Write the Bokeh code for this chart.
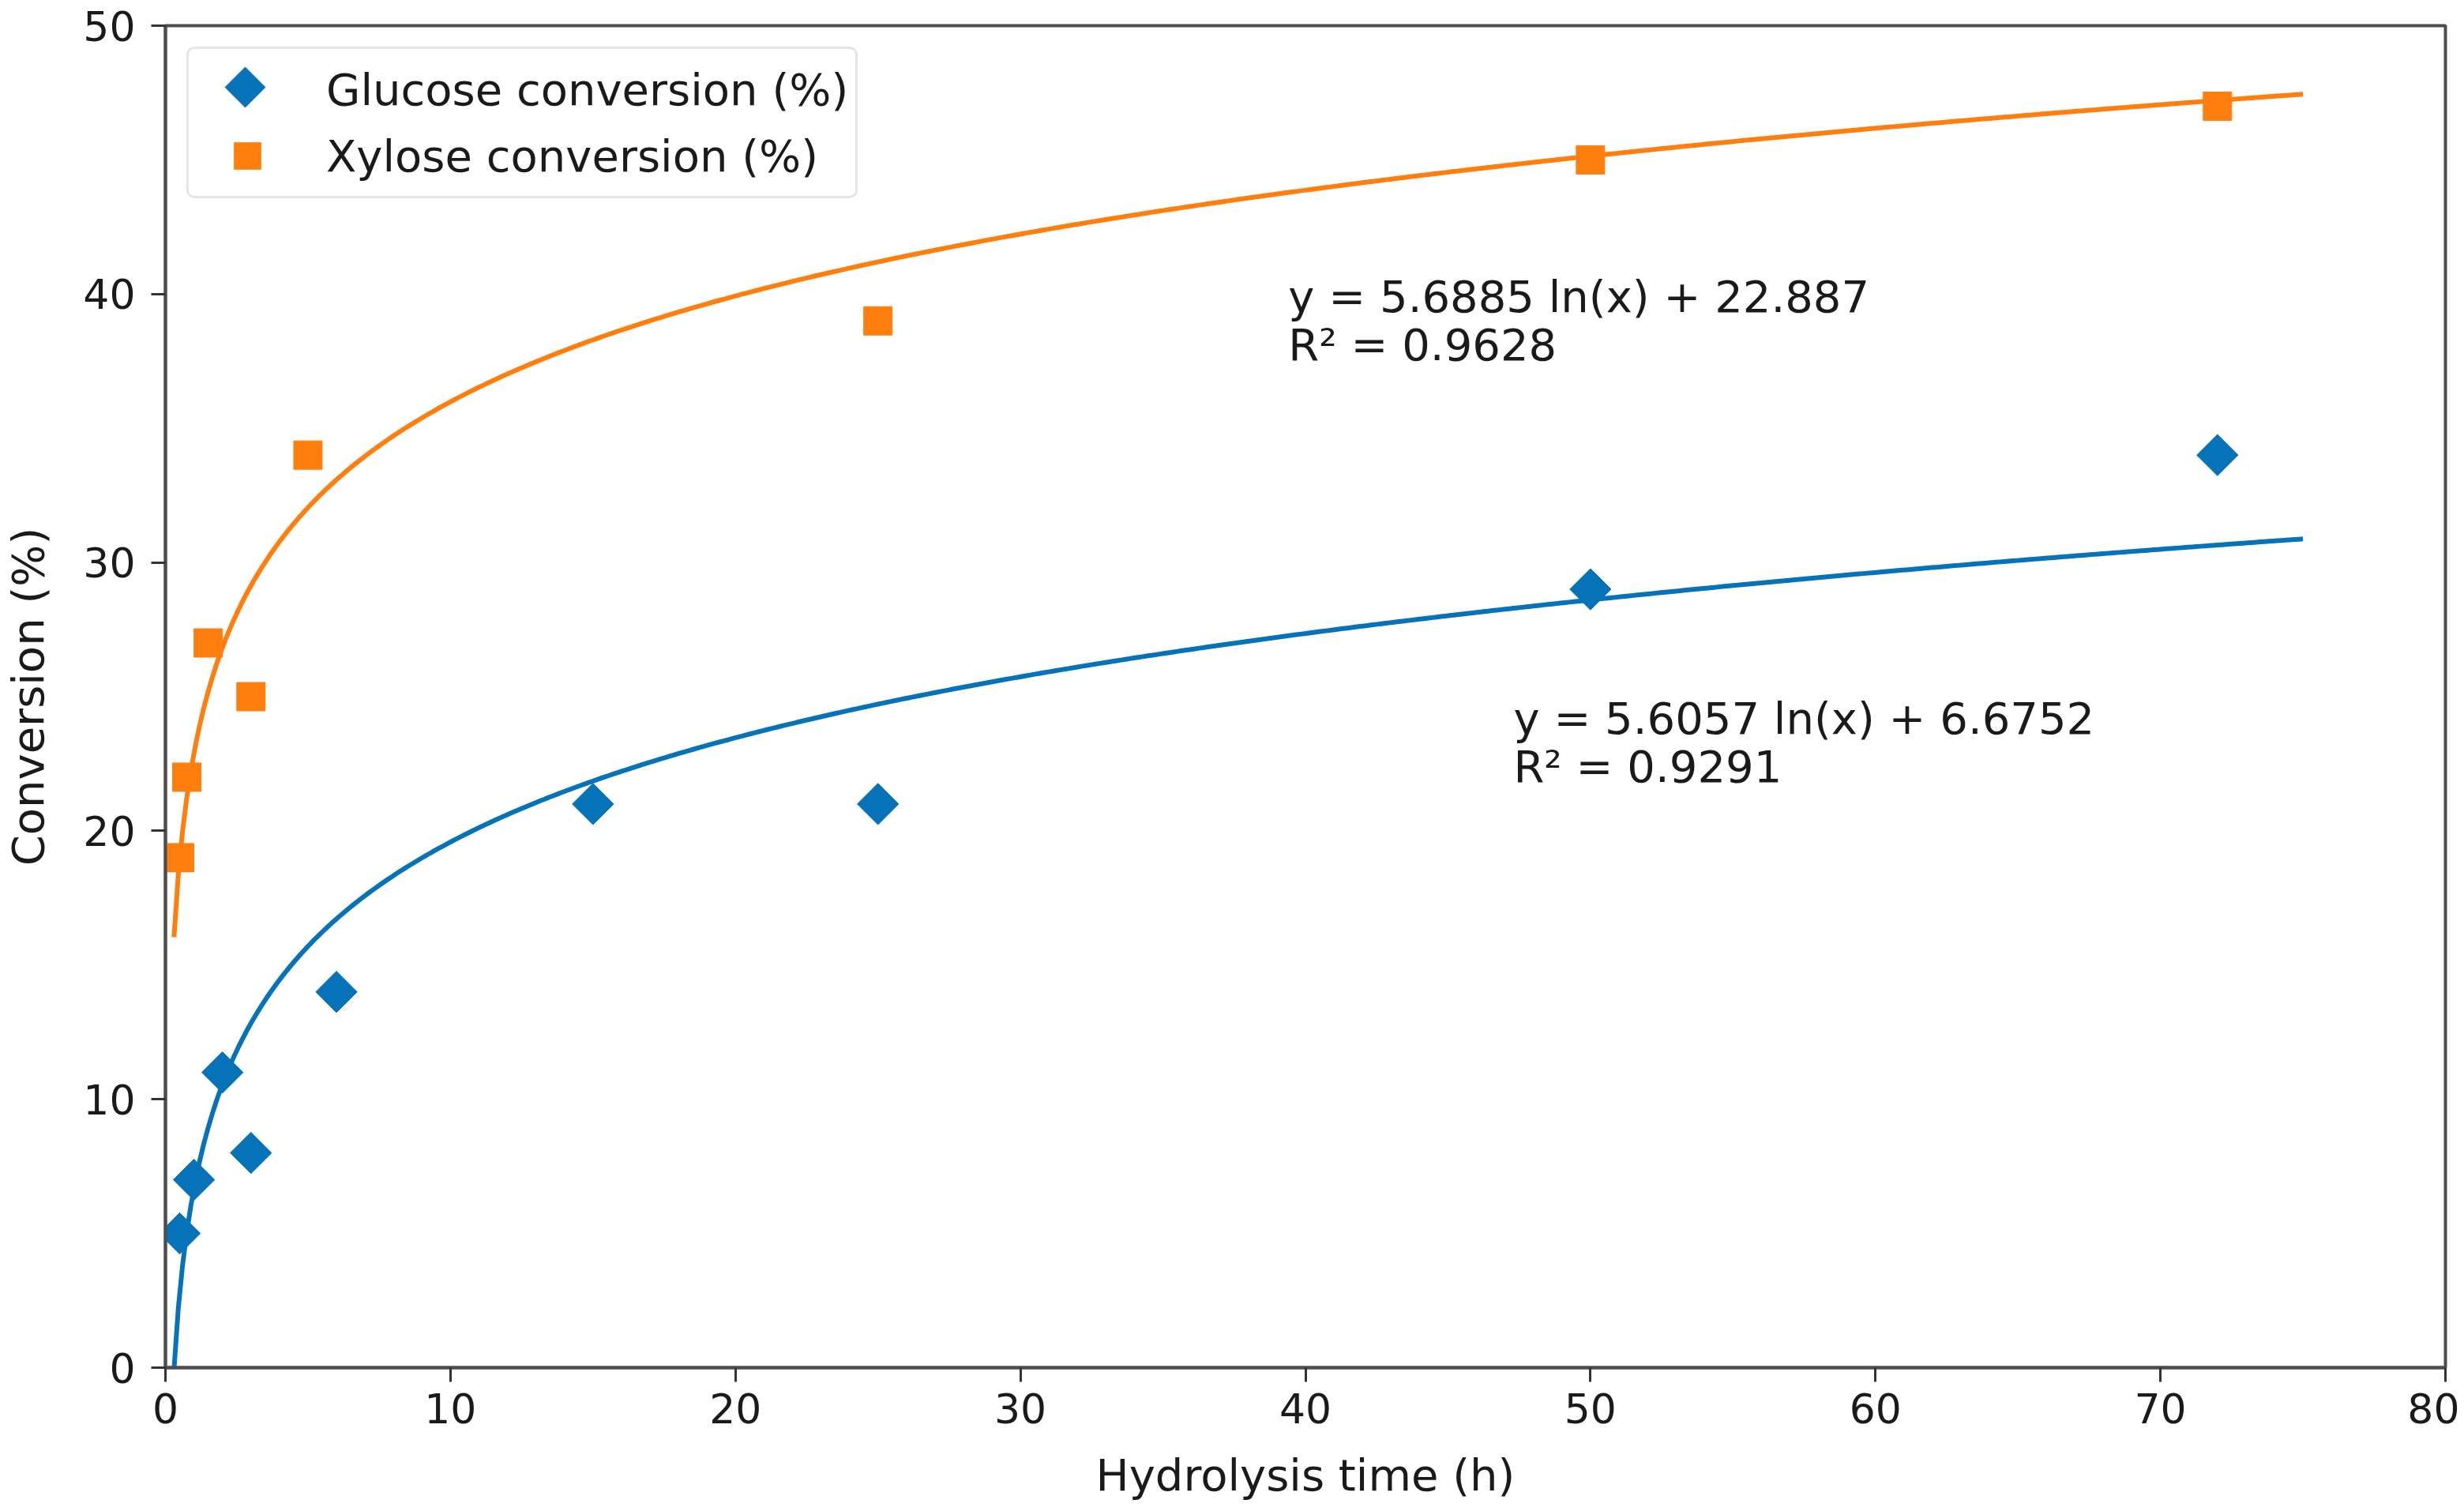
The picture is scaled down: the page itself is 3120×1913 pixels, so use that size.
import numpy as np
from math import pi
from bokeh.plotting import figure
from bokeh.models import ColumnDataSource, Legend, LegendItem, FixedTicker, Range1d
from bokeh.embed import file_html
from bokeh.resources import INLINE
from bokeh.core.properties import value

glucose_time = [0.5, 1, 2, 3, 6, 15, 25, 50, 72]
glucose_conv = [5, 7, 11, 8, 14, 21, 21, 29, 34]
xylose_time = [0.5, 0.75, 1.5, 3, 5, 25, 50, 72]
xylose_conv = [19, 22, 27, 25, 34, 39, 45, 47]

# logarithmic trend lines as printed on the chart: y = a ln(x) + b
glucose_fit = (5.6057, 6.6752)
xylose_fit = (5.6885, 22.887)
fit_start, fit_end = 0.3, 75

# equation labels
label_x = [39.4, 39.4, 47.3, 47.3]
label_y = [39.9, 38.1, 24.2, 22.4]
label_text = ["y = 5.6885 ln(x) + 22.887", "R² = 0.9628",
              "y = 5.6057 ln(x) + 6.6752", "R² = 0.9291"]

x_ticks = [0, 10, 20, 30, 40, 50, 60, 70, 80]
y_ticks = [0, 10, 20, 30, 40, 50]

BLUE = "#0673b8"
ORANGE = "#ff7f0e"
FONT = "DejaVu Sans"
FS = "56px"
TICK_FS = "52px"
FRAME_W, FRAME_H = 2887, 1699

# legend geometry
LEG_MARGIN, LEG_PAD = 27, 9
GLYPH_W, GLYPH_H = 130, 84

p = figure(frame_width=FRAME_W, frame_height=FRAME_H,
           min_border_left=199, min_border_right=18, min_border_top=32, min_border_bottom=160,
           x_range=(0, 80), y_range=(0, 50),
           output_backend="svg", toolbar_location=None, tools="")

p.xgrid.grid_line_color = None
p.ygrid.grid_line_color = None
p.outline_line_color = "#4d4d4d"
p.outline_line_width = 4
p.background_fill_color = "white"
p.border_fill_color = "white"

# trend curves
t = np.linspace(fit_start, fit_end, 500)
p.line(t, glucose_fit[0] * np.log(t) + glucose_fit[1], line_color=BLUE, line_width=6)
p.line(t, xylose_fit[0] * np.log(t) + xylose_fit[1], line_color=ORANGE, line_width=6)

# glucose as diamonds (rotated squares), xylose as squares
p.scatter(glucose_time, glucose_conv, marker="square", angle=pi / 4, size=37,
          fill_color=BLUE, line_color=BLUE)
xy = p.scatter(xylose_time, xylose_conv, marker="square", size=36,
               fill_color=ORANGE, line_color=ORANGE)

src = ColumnDataSource(dict(x=label_x, y=label_y, text=label_text))
p.text(x="x", y="y", text="text", source=src, text_font=value(FONT),
       text_font_size=FS, text_color="#1a1a1a", text_baseline="alphabetic")

for ax in (p.xaxis[0], p.yaxis[0]):
    ax.axis_line_color = "#4d4d4d"
    ax.axis_line_width = 4
    ax.major_tick_line_color = "#333333"
    ax.major_tick_line_width = 3
    ax.major_tick_out = 18
    ax.major_tick_in = 0
    ax.minor_tick_out = 0
    ax.minor_tick_in = 0
    ax.major_label_text_font = FONT
    ax.major_label_text_font_size = TICK_FS
    ax.major_label_text_color = "#1a1a1a"
    ax.axis_label_text_font = FONT
    ax.axis_label_text_font_size = FS
    ax.axis_label_text_font_style = "normal"
    ax.axis_label_text_color = "#1a1a1a"

p.xaxis.ticker = FixedTicker(ticks=x_ticks)
p.yaxis.ticker = FixedTicker(ticks=y_ticks)
p.xaxis.axis_label = "Hydrolysis time (h)"
p.yaxis.axis_label = "Conversion (%)"
p.xaxis.major_label_standoff = 14
p.yaxis.major_label_standoff = 20
p.xaxis.axis_label_standoff = 30
p.yaxis.axis_label_standoff = 34

# legend: glucose entry uses an invisible proxy, its rotated marker is drawn in the same spot
proxy = p.scatter([], [], marker="square", fill_alpha=0, line_alpha=0)
legend = Legend(items=[LegendItem(label="Glucose conversion (%)", renderers=[proxy]),
                       LegendItem(label="Xylose conversion (%)", renderers=[xy])],
                location="top_left", margin=LEG_MARGIN, padding=LEG_PAD, spacing=0,
                glyph_width=GLYPH_W, glyph_height=GLYPH_H, label_standoff=35,
                label_text_font=FONT, label_text_font_size=FS, label_text_color="#1a1a1a",
                border_line_color="#cccccc", border_line_width=3, border_radius=10,
                background_fill_color="white", background_fill_alpha=0)
p.add_layout(legend)

p.extra_x_ranges = {"px": Range1d(0, FRAME_W)}
p.extra_y_ranges = {"px": Range1d(FRAME_H, 0)}
p.scatter([LEG_MARGIN + LEG_PAD + GLYPH_W / 2], [LEG_MARGIN + LEG_PAD + GLYPH_H / 2],
          x_range_name="px", y_range_name="px", marker="square", angle=pi / 4, size=36,
          fill_color=BLUE, line_color=BLUE)

open("out.html", "w").write(file_html(p, INLINE))
